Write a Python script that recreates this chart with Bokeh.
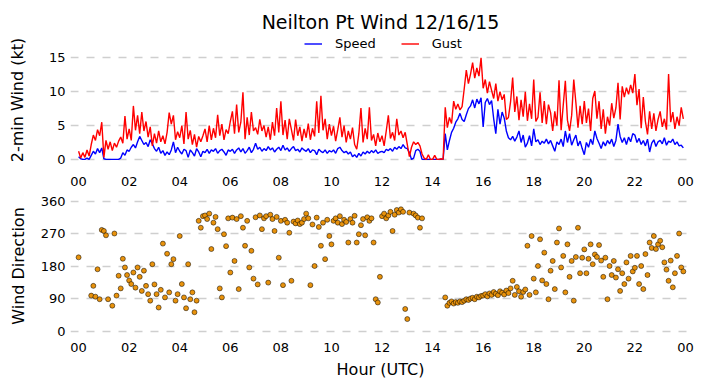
from bokeh.plotting import figure
from bokeh.layouts import column
from bokeh.models import FixedTicker, Legend, LegendItem, ColumnDataSource
from bokeh.embed import file_html
from bokeh.resources import INLINE

TITLE = "Neilton Pt Wind 12/16/15"
STEP_MIN = 5
TICK_HOURS = [0, 2, 4, 6, 8, 10, 12, 14, 16, 18, 20, 22, 24]
TICK_LABELS = ["00", "02", "04", "06", "08", "10", "12", "14", "16", "18", "20", "22", "00"]
SPEED_TICKS = [0, 5, 10, 15]
DIR_TICKS = [0, 90, 180, 270, 360]

speed = [
    0.4, 0.1, 0, 0, 0.2, 0, 0.6, 1.2, 0.8, 1.6, 1.0, 1.7,
    0.1, 0, 0, 0, 0, 0, 0, 0, 0.2, 1.0, 0.6, 1.4,
    1.2, 1.8, 2.2, 1.7, 2.6, 3.4, 2.8, 2.2, 2.5, 1.9, 2.9, 2.3,
    1.6, 1.2, 1.8, 0.9, 1.3, 0.6, 1.1, 0.7, 1.4, 2.6, 1.0, 1.8,
    1.2, 0.8, 1.5, 1.3, 0.3, 1.4, 1.0, 0.5, 1.6, 1.1, 0.4, 1.2,
    1.0, 1.5, 0.9, 1.4, 1.2, 1.6, 0.9, 1.3, 1.5, 1.1, 0.6, 1.4,
    1.2, 1.5, 0.9, 1.4, 1.7, 1.1, 1.6, 0.9, 1.3, 1.8, 1.0, 1.5,
    2.4, 1.5, 1.8, 1.2, 1.6, 1.3, 1.9, 1.4, 1.7, 1.1, 1.5, 1.8,
    1.3, 2.1, 1.4, 1.7, 1.2, 1.6, 1.9, 1.3, 1.5, 1.1, 1.7, 1.4,
    1.2, 1.6, 1.0, 1.4, 1.3, 0.7, 1.5, 1.2, 1.0, 1.4, 0.9, 1.3,
    1.1, 1.4, 0.9, 1.6, 1.8, 1.3, 1.0, 1.2, 0.8, 1.1, 0.4, 0.7,
    0.3, 0.9, 0.5, 1.1, 0.8, 1.2, 0.9, 1.3, 1.0, 1.4, 0.9, 1.1,
    1.2, 1.0, 1.5, 1.3, 1.6, 1.2, 1.8, 1.5, 1.9, 1.6, 2.2, 1.7,
    1.6, 1.0, 0.0, 0.2, 1.3, 1.5, 1.2, 0.0, 0, 0, 0, 0,
    0, 0, 0, 0, 0, 0, 3.8, 1.4, 2.8, 4.0, 4.6, 5.5,
    6.0, 6.8, 5.9, 5.6, 6.6, 7.5, 7.9, 8.8, 7.6, 8.9, 8.2, 9.1,
    4.8, 8.4, 9.0, 8.1, 8.7, 6.0, 3.8, 7.4, 5.2, 7.0, 6.1, 4.2,
    3.2, 2.9, 3.4, 2.7, 3.3, 4.2, 2.5, 3.6, 1.8, 2.4, 3.5, 2.0,
    4.5, 2.6, 2.9, 2.2, 2.7, 2.4, 3.0, 2.3, 2.8, 2.0, 1.2, 2.6,
    2.2, 3.0, 1.9, 4.2, 2.5, 3.8, 2.1, 2.9, 3.6, 2.0, 2.7, 1.6,
    0.7, 2.5, 1.8, 3.0, 2.2, 4.2, 3.1, 2.4, 1.6, 2.6, 2.0, 2.8,
    2.3, 3.0, 1.9, 2.8, 5.2, 3.4, 2.5, 3.2, 2.2, 3.3, 2.6, 3.8,
    3.6, 2.5, 3.1, 2.2, 2.8, 2.0, 3.0, 1.1, 2.4, 2.9, 1.9, 2.6,
    2.8, 2.3, 3.2, 2.1, 2.7, 2.5, 3.0, 2.2, 2.6, 2.0, 2.1, 1.7,
]

gust = [
    1.2, 0.2, 1.0, 0.3, 1.4, 0.5, 2.2, 3.6, 2.8, 4.4, 3.5, 5.5,
    0.3, 2.8, 1.5, 2.6, 1.3, 2.4, 1.8, 2.7, 3.3, 2.4, 6.4, 3.0,
    4.5, 2.8, 7.9, 4.3, 6.5, 3.8, 7.0, 4.2, 5.6, 3.3, 4.8, 2.0,
    3.8, 2.4, 4.2, 2.6, 3.5, 2.3, 4.0, 6.9, 5.2, 6.5, 2.9, 4.1,
    3.2, 5.0, 2.3, 7.0, 3.0, 4.3, 2.2, 3.7, 1.8, 3.4, 2.6, 3.5,
    4.5, 2.6, 5.0, 2.9, 4.6, 3.2, 6.6, 3.5, 5.2, 2.9, 4.4, 3.8,
    5.6, 7.1, 3.8, 8.1, 4.0, 5.5, 9.9, 3.0, 6.2, 3.6, 7.0, 4.2,
    4.7, 3.7, 5.9, 4.2, 5.0, 3.3, 4.8, 2.9, 5.5, 3.5, 7.6, 4.0,
    8.6, 3.6, 5.8, 3.0, 6.0, 4.4, 2.8, 5.9, 3.5, 4.8, 2.7, 4.5,
    3.2, 5.3, 2.9, 4.6, 3.4, 8.6, 3.9, 9.4, 4.3, 6.0, 3.0, 5.2,
    3.5, 4.9, 2.7, 4.4, 6.2, 3.3, 5.0, 2.5, 4.2, 3.0, 4.7, 2.2,
    1.5, 3.8, 7.6, 2.5, 4.6, 3.0, 7.7, 2.8, 3.7, 2.0, 3.9, 2.6,
    3.5, 2.0, 4.2, 6.5, 3.1, 4.0, 2.8, 6.0, 3.6, 4.2, 3.2, 4.0,
    2.2, 0.4, 1.8, 2.6, 2.2, 2.5, 2.0, 0.8, 0.2, 0, 0.7, 0,
    0, 0.6, 0, 0, 0.1, 0, 7.7, 4.7, 6.2, 5.3, 8.6, 7.4,
    8.2, 7.3, 7.8, 10.4, 13.2, 11.2, 12.6, 14.3, 12.0, 13.5, 12.3, 15.0,
    10.5, 11.8, 9.8, 11.5, 10.2, 9.0, 11.2, 8.6, 10.0, 8.8, 9.6, 5.9,
    6.2, 8.5, 12.1, 7.0, 9.3, 5.8, 8.8, 6.3, 10.0, 5.7, 8.2, 6.0,
    11.8, 5.6, 6.2, 9.9, 5.4, 8.6, 5.2, 8.1, 6.9, 4.2, 7.1, 5.0,
    11.7, 4.3, 8.0, 11.6, 5.8, 4.2, 6.5, 11.8, 8.4, 4.7, 7.9, 5.2,
    8.6, 5.4, 7.5, 4.2, 9.0, 10.1, 6.0, 8.6, 4.5, 7.4, 3.8, 6.3,
    5.0, 8.3, 6.1, 7.6, 11.3, 5.9, 10.8, 9.2, 10.6, 9.6, 11.0, 9.8,
    12.6, 8.0, 10.4, 4.6, 9.2, 5.6, 3.7, 7.1, 4.5, 6.8, 4.2, 5.9,
    7.1, 4.8, 6.0, 4.4, 12.6, 5.5, 7.0, 4.5, 6.3, 5.0, 7.7, 6.0,
]

N = None
direction = [
    204, N, N, N, N, N, 98, 125, 95, 171, 88, 280,
    277, 265, 88, N, 70, 270, 98, 153, 118, 200, 176, 155,
    140, 130, 162, 120, 176, 150, 111, 167, 125, 102, 84, 185,
    129, 102, 65, 114, 242, 93, 214, 107, 185, 199, 84, 102,
    263, 130, 93, 63, 185, 88, 107, 52, 84, 305, 286, 318,
    320, 310, 325, 227, 300, 316, 282, 118, 93, 268, 235, 312,
    162, 314, 194, 310, 116, 318, 286, 236, 305, 176, 222, 145,
    315, 129, 320, 282, 312, 318, 134, 322, 310, 277, 316, 203,
    305, 127, 308, 300, 272, 139, 303, 298, 306, 296, 300, 310,
    325, 312, 127, 295, 180, 314, 288, 236, 300, 199, 308, 263,
    240, 305, 312, 300, 318, 296, 308, 302, 245, 310, 300, 319,
    245, 268, 293, 310, 265, 315, 305, 312, 245, 88, 79, 150,
    318, 325, 312, 320, 330, 277, 322, 335, 328, 337, 330, 61,
    33, 328, N, 325, 320, 314, 286, 312, N, N, N, N,
    N, N, N, N, N, N, 93, 70, 78, 82, 76, 80,
    78, 82, 80, 84, 88, 86, 90, 92, 88, 95, 93, 97,
    98, 102, 96, 104, 100, 108, 103, 99, 110, 106, 101, 112,
    105, 118, 139, 100, 122, 110, 95, 108, 115, 236, 100, 263,
    145, 107, 180, 254, 140, 217, 130, 88, 167, 194, 116, 245,
    284, 176, 208, 107, 240, 150, 194, 84, 205, 286, 160, 203,
    226, 160, 200, 240, 185, 212, 205, 238, 195, 150, 203, 88,
    180, 155, 194, 148, 171, 111, 160, 130, 190, 145, 208, 165,
    175, 208, 130, 180, 116, 213, 155, 245, 230, 263, 227, 240,
    250, 232, 190, 170, 139, 195, 121, 160, 208, 270, 176, 165,
]

hours = [i * STEP_MIN / 60 for i in range(len(speed))]
dir_x = [h for h, d in zip(hours, direction) if d is not None]
dir_y = [d for d in direction if d is not None]

FONT = "DejaVu Sans"
GRID = "#cfcfcf"


def style(p, ylabel, yticks, ylab_standoff, xtick_standoff):
    p.xaxis.ticker = FixedTicker(ticks=TICK_HOURS)
    p.xaxis.major_label_overrides = {t: l for t, l in zip(TICK_HOURS, TICK_LABELS)}
    p.yaxis.ticker = FixedTicker(ticks=yticks)
    for ax in (p.xaxis[0], p.yaxis[0]):
        ax.axis_line_color = None
        ax.major_tick_line_color = None
        ax.minor_tick_line_color = None
        ax.major_tick_out = 0
        ax.major_tick_in = 0
        ax.minor_tick_out = 0
        ax.major_label_text_font = FONT
        ax.major_label_text_font_size = "13px"
        ax.major_label_text_color = "#000000"
        ax.axis_label_text_font = FONT
        ax.axis_label_text_font_size = "16px"
        ax.axis_label_text_font_style = "normal"
        ax.axis_label_text_color = "#000000"
    p.yaxis.major_label_standoff = 5
    p.xaxis.major_label_standoff = xtick_standoff
    p.yaxis.axis_label = ylabel
    p.yaxis.axis_label_standoff = ylab_standoff
    p.xgrid.grid_line_color = None
    p.ygrid.grid_line_color = GRID
    p.ygrid.grid_line_width = 1.6
    p.ygrid.grid_line_dash = "8 8"
    p.outline_line_color = None
    p.background_fill_color = "white"
    p.border_fill_color = "white"


p1 = figure(frame_width=620, frame_height=129, x_range=(-0.32, 24.2), y_range=(-0.75, 18.3),
            output_backend="svg", toolbar_location=None,
            min_border_left=70, min_border_right=4, min_border_top=35, min_border_bottom=26)
style(p1, "2-min Wind (kt)", SPEED_TICKS, 19, 12)
p1.title.text = TITLE
p1.title.align = "center"
p1.title.text_font = FONT
p1.title.text_font_size = "19px"
p1.title.text_font_style = "normal"
p1.title.text_color = "#000000"
p1.title.standoff = 6
p1.title.offset = 0

src = ColumnDataSource(dict(x=hours, speed=speed, gust=gust))
r_speed = p1.line("x", "speed", source=src, line_color="#0000ff", line_width=1.4)
r_gust = p1.line("x", "gust", source=src, line_color="#ff0000", line_width=1.4)
leg = Legend(items=[LegendItem(label="Speed", renderers=[r_speed]),
                    LegendItem(label="Gust", renderers=[r_gust])],
             orientation="horizontal", location=(234, 113),
             glyph_width=18, glyph_height=13, label_height=13,
             label_standoff=13, spacing=25, padding=0, margin=0,
             border_line_color=None, background_fill_alpha=0,
             label_text_font=FONT, label_text_font_size="13px",
             label_text_color="#000000")
p1.add_layout(leg)

p2 = figure(frame_width=620, frame_height=143, x_range=p1.x_range, y_range=(-18, 378),
            output_backend="svg", toolbar_location=None,
            min_border_left=70, min_border_right=4, min_border_top=4, min_border_bottom=43)
style(p2, "Wind Direction", DIR_TICKS, 10, 5)
p2.xaxis.axis_label = "Hour (UTC)"
p2.xaxis.axis_label_standoff = 5
p2.scatter(dir_x, dir_y, size=5, fill_color="#e8920c", line_color="#000000", line_width=0.5)

layout = column(p1, p2, spacing=0)
open("out.html", "w").write(file_html(layout, INLINE))
